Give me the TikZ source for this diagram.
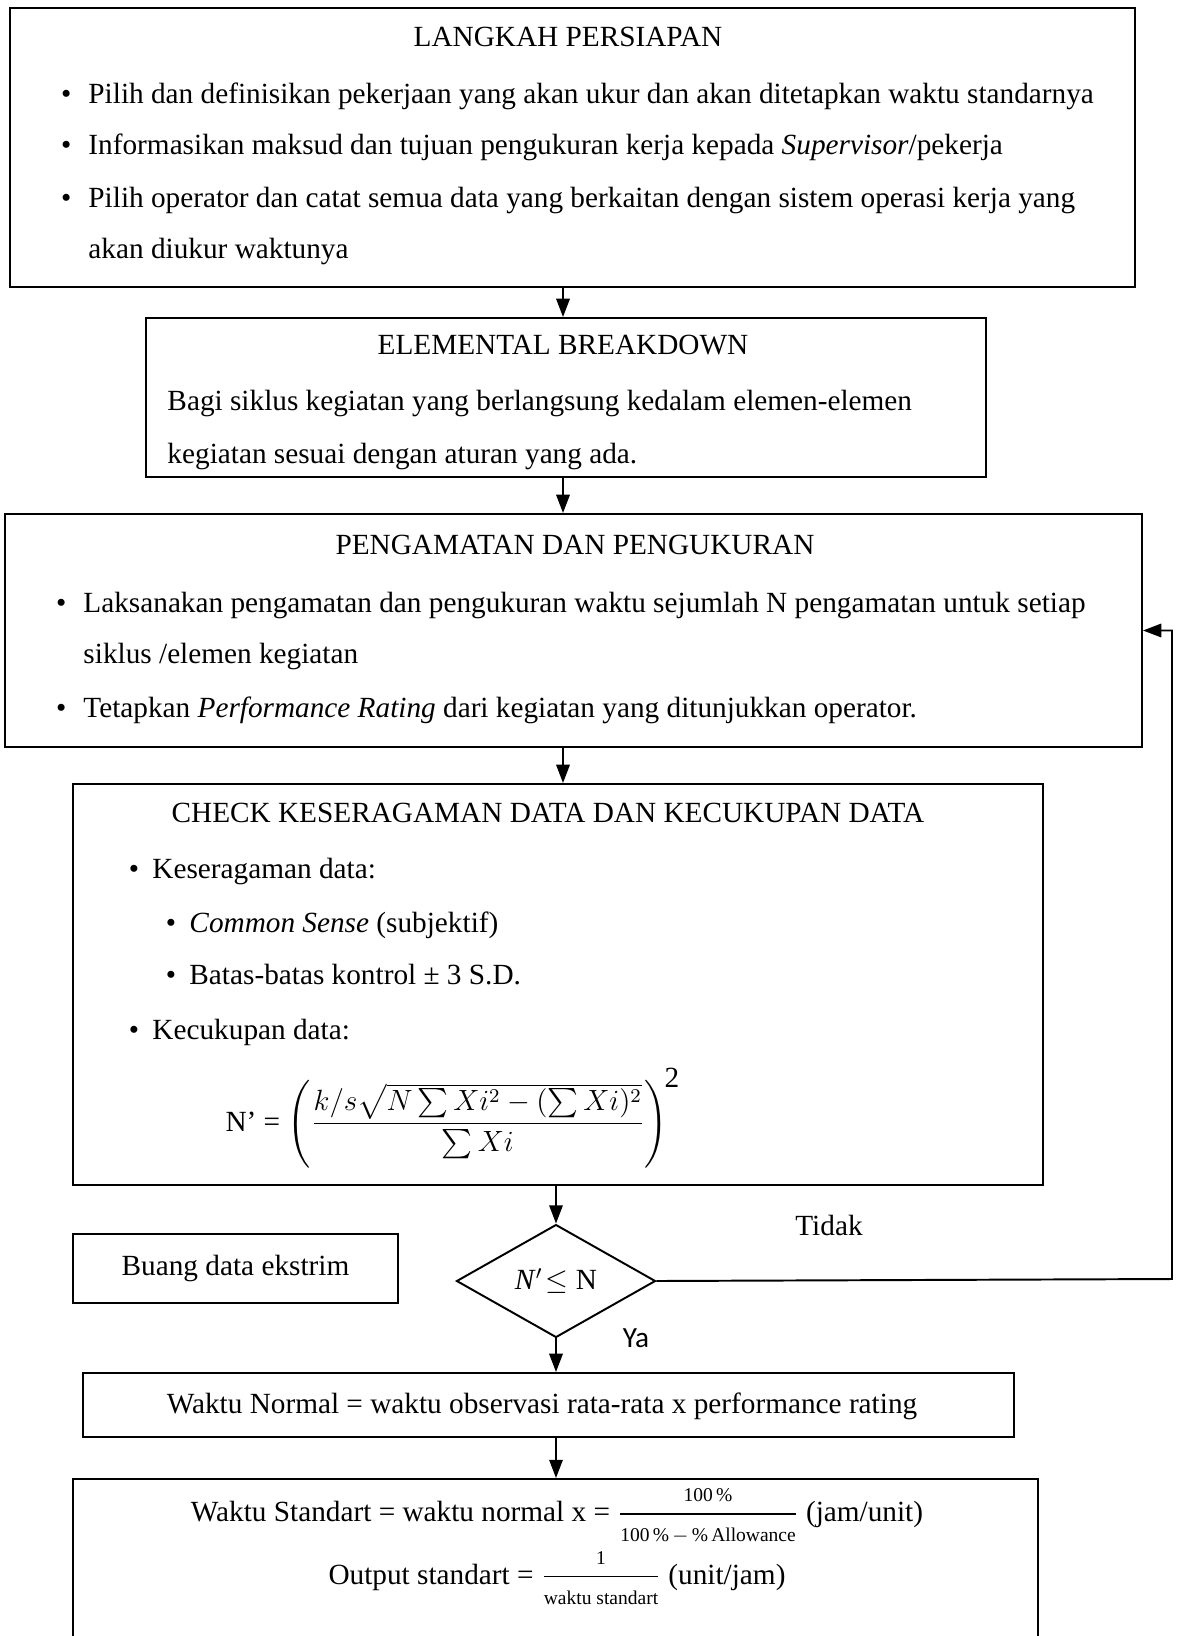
\documentclass[tikz,border=0pt]{standalone}
\usepackage{amsmath}
\usepackage{fontspec}
\setmainfont{Liberation Serif}
\newfontfamily\yafont{Carlito}
\usetikzlibrary{positioning,arrows.meta,fit,shapes.geometric}
\newcommand{\itm}[1][7pt]{\llap{\textbullet\hspace{#1}}}

\begin{document}
\begin{tikzpicture}[
  x=0.41pt, y=-0.41pt,
  font=\fontsize{12}{14}\selectfont,
  box/.style={draw, line width=0.8pt, inner sep=0pt},
  ttl/.style={inner sep=0pt, text height=8.5pt, text depth=2.5pt},
  txt/.style={ttl, anchor=west},
  decbox/.style={draw, diamond, line width=0.8pt, inner sep=0pt,
                 minimum width=81.6pt, minimum height=46.3pt},
  arr/.style={-{Triangle[length=7.5pt,width=5.5pt]}, line width=0.8pt},
]
\useasboundingbox (0,0) rectangle (1184,1636);

\node[box, fit={(10,8) (1135,287)}]    (prep) {};
\node[ttl] (prepT) at (568,39) {LANGKAH PERSIAPAN};
\node[txt] (prep1) at (88,96)  {\itm Pilih dan definisikan pekerjaan yang akan ukur dan akan ditetapkan waktu standarnya};
\node[txt] (prep2) at (88,147) {\itm Informasikan maksud dan tujuan pengukuran kerja kepada \textit{Supervisor}/pekerja};
\node[txt] (prep3) at (88,200) {\itm Pilih operator dan catat semua data yang berkaitan dengan sistem operasi kerja yang};
\node[txt] (prep4) at (88,251) {akan diukur waktunya};

\node[box, fit={(146,318) (986,477)}]  (brk) {};
\node[ttl] (brkT) at (563,347) {ELEMENTAL BREAKDOWN};
\node[txt] (brk1) at (167,403) {Bagi siklus kegiatan yang berlangsung kedalam elemen-elemen};
\node[txt] (brk2) at (167,456) {kegiatan sesuai dengan aturan yang ada.};

\node[box, fit={(5,514) (1142,747)}]   (obs) {};
\node[ttl] (obsT) at (575,547) {PENGAMATAN DAN PENGUKURAN};
\node[txt] (obs1) at (83,605) {\itm Laksanakan pengamatan dan pengukuran waktu sejumlah N pengamatan untuk setiap};
\node[txt] (obs2) at (83,656) {siklus /elemen kegiatan};
\node[txt] (obs3) at (83,710) {\itm Tetapkan \textit{Performance Rating} dari kegiatan yang ditunjukkan operator.};

\node[box, fit={(73,784) (1043,1185)}] (chk) {};
\node[ttl] (chkT) at (548,815) {CHECK KESERAGAMAN DATA DAN KECUKUPAN DATA};
\node[txt] (chk1) at (152,871)  {\itm[5.5pt]Keseragaman data:};
\node[txt] (chk2) at (189,925)  {\itm[5.5pt]\textit{Common Sense} (subjektif)};
\node[txt] (chk3) at (189,977)  {\itm[5.5pt]Batas-batas kontrol ± 3 S.D.};
\node[txt] (chk4) at (152,1032) {\itm[5.5pt]Kecukupan data:};
\node[inner sep=0pt] (frm) at (453,1118)
  {N’ = $\left(\dfrac{k/s\sqrt{N\sum Xi^{2}-(\sum Xi)^{2}}}{\sum Xi}\right)^{\!\text{\large 2}}$};

\node[decbox] (dec) at (556,1281) {\textit{N}$^{\prime}\!\leq$ N};
\node[ttl] (tidak) at (829,1228) {Tidak};
\node[ttl] (ya) at (636,1340) {\yafont Ya};
\node[box, fit={(73,1234) (398,1303)}] (buang) {};
\node[ttl] at (buang.center) {Buang data ekstrim};

\node[box, fit={(83,1373) (1014,1437)}] (wn) {};
\node[ttl] (wnT) at (542,1406) {Waktu Normal = waktu observasi rata-rata x performance rating};

\node[box, fit={(73,1479) (1038,1700)}] (ws) {};
\node[inner sep=0pt] (ws1) at (557,1516)
  {Waktu Standart = waktu normal x = $\dfrac{\text{\footnotesize 100\,\%}}{\text{\footnotesize 100\,\%\,$-$\,\%\,Allowance}}$ (jam/unit)};
\node[inner sep=0pt] (ws2) at (557,1578)
  {Output standart = $\dfrac{\text{\footnotesize 1}}{\text{\footnotesize waktu standart}}$ (unit/jam)};

\coordinate (loop) at (1172,1279);
\draw[arr] (prep.south -| brkT) -- (brk.north -| brkT);
\draw[arr] (brk.south -| brkT) -- (obs.north -| brkT);
\draw[arr] (obs.south -| brkT) -- (chk.north -| brkT);
\draw[arr] (chk.south -| dec) -- (dec.north);
\draw[arr] (dec.south) -- (wn.north -| dec);
\draw[arr] (wn.south -| dec) -- (ws.north -| dec);
\draw[arr] (dec.east) -- (loop) |- (obs.east);
\end{tikzpicture}
\end{document}
